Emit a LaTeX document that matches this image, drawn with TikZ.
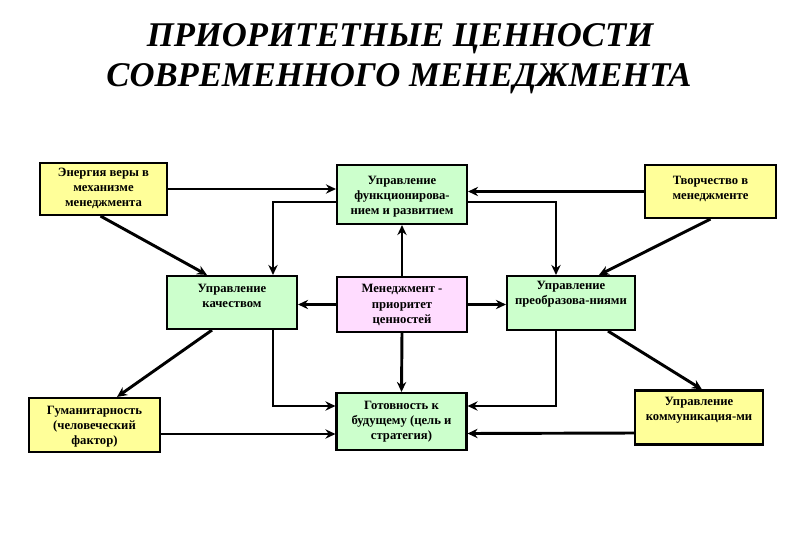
\documentclass[tikz,border=0pt]{standalone}
\usepackage{fontspec}
\setmainfont{Liberation Serif}
\usepackage{tikz}
\usetikzlibrary{arrows.meta,calc}
\definecolor{boxyel}{RGB}{255,255,153}
\definecolor{boxgrn}{RGB}{204,255,204}
\definecolor{boxpnk}{RGB}{255,220,255}

\begin{document}
\begin{tikzpicture}[x=0.75pt,y=-0.75pt,
    box/.style={draw=black,line width=1.6pt,minimum width=97.5pt,minimum height=40pt,inner sep=0pt},
    ybox/.style={box,fill=boxyel},
    gbox/.style={box,fill=boxgrn},
    pbox/.style={box,fill=boxpnk},
    txt/.style={align=center,inner sep=0pt,font=\fontsize{9.5}{11.3}\selectfont\bfseries},
    headline/.style={inner sep=0pt,font=\fontsize{26}{32}\selectfont\bfseries\itshape},
    link/.style={line width=2.2pt,-{Stealth[length=7.5pt,width=7pt]}}]

    \useasboundingbox[fill=white] (0,0) rectangle (794,540);

    % Title
    \node[headline] (title1) at (400,39) {ПРИОРИТЕТНЫЕ ЦЕННОСТИ};
    \node[headline] (title2) at (399,79) {СОВРЕМЕННОГО МЕНЕДЖМЕНТА};

    % Top row
    \node[ybox,minimum width=95.25pt,minimum height=39pt] (energy) at (103.5,189) {};
    \node[txt] (energy-t) at (103.5,188) {Энергия веры в\\механизме\\менеджмента};
    \node[gbox,minimum height=44.25pt] (funct) at (402,194.5) {};
    \node[txt] (funct-t) at (402,197) {Управление\\функционирова-\\нием и развитием};
    \node[ybox,minimum width=98.25pt,minimum height=39.75pt] (creat) at (710.5,191.5) {};
    \node[txt] (creat-t) at (710.5,189) {Творчество в\\менеджменте};

    % Middle row
    \node[gbox,minimum height=39.75pt] (quality) at (232,302.5) {};
    \node[txt] (quality-t) at (232,295.5) {Управление\\качеством};
    \node[pbox,minimum height=41.25pt] (prio) at (402,304.5) {};
    \node[txt] (prio-t) at (402,305) {Менеджмент -\\приоритет\\ценностей};
    \node[gbox,minimum width=96pt,minimum height=40.5pt] (transf) at (571,303) {};
    \node[txt] (transf-t) at (571,294) {Управление\\преобразова-ниями};

    % Bottom row
    \node[ybox,minimum width=98.25pt,minimum height=40.5pt] (human) at (94.5,425) {};
    \node[txt] (human-t) at (94.5,427) {Гуманитарность\\(человеческий\\фактор)};
    \node[gbox,minimum height=42.75pt] (future) at (401.5,421.5) {};
    \node[txt] (future-t) at (401.5,422) {Готовность к\\будущему (цель и\\стратегия)};
    \node[ybox,minimum width=96pt,minimum height=40.5pt] (comm) at (699,417.5) {};
    \node[txt] (comm-t) at (699,410.5) {Управление\\коммуникация-ми};

    % Arrows into the upper centre box
    \draw[link] (energy.east) -- (energy.east -| funct.west);
    \draw[link] (creat.west) -- (creat.west -| funct.east);
    \draw[link] (prio.north) -- (funct.south);

    % From the upper centre box down to the sides
    \draw[link] ($(funct.west)+(0,7.5)$) -| ($(quality.north)+(41,0)$);
    \draw[link] ($(funct.east)+(0,7.5)$) -| ($(transf.north)+(-15,0)$);

    % Diagonals
    \draw[link] ($(energy.south)+(-3,0)$) -- ($(quality.north)+(-25,0)$);
    \draw[link] (creat.south) -- ($(transf.north)+(28,0)$);
    \draw[link] ($(quality.south)+(-20,0)$) -- ($(human.north)+(22.5,0)$);
    \draw[link] ($(transf.south)+(37,0)$) -- ($(comm.north)+(3,0)$);

    % From the centre box
    \draw[link] (prio.west) -- (prio.west -| quality.east);
    \draw[link] (prio.east) -- (prio.east -| transf.west);
    \draw[link] (prio.south) -- (future.north);

    % Into the lower centre box
    \draw[link] ($(quality.south)+(41,0)$) |- ($(future.west)+(0,-15.5)$);
    \draw[link] ($(transf.south)+(-15,0)$) |- ($(future.east)+(0,-15.5)$);
    \draw[link] ($(human.east)+(0,9)$) -- ($(future.west)+(0,12.5)$);
    \draw[link] ($(comm.west)+(0,15.5)$) -- ($(future.east)+(0,12)$);

  \end{tikzpicture}
\end{document}
